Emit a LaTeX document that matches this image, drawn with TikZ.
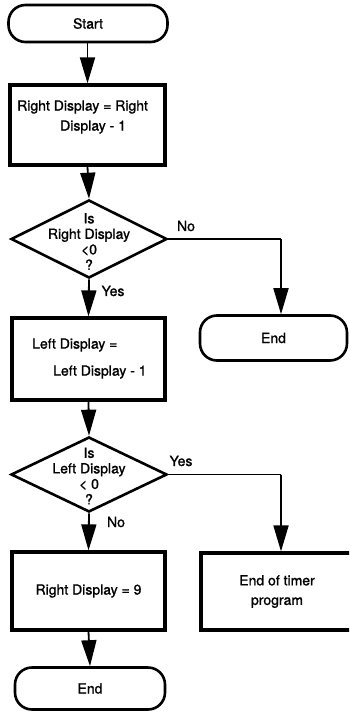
\documentclass[tikz,border=0pt]{standalone}
\usepackage{fontspec}
\setmainfont{TeX Gyre Heros}[BoldFont=TeX Gyre Heros,BoldFeatures={FakeBold=1.2}]
\usetikzlibrary{arrows.meta,shapes.geometric}
\begin{document}
\begin{tikzpicture}[x=1pt,y=-1pt,
  every node/.style={font=\fontsize{14}{15.5}\selectfont\bfseries},
  term/.style={draw,line width=2.6pt,rounded corners=17pt,inner sep=0},
  procbox/.style={draw,line width=3.2pt,inner sep=0},
  dia/.style={draw,diamond,line width=2.6pt,inner sep=0,minimum width=156pt},
  txt/.style={inner sep=0},
  arr/.style={line width=1.8pt,-{Triangle[width=15pt,length=26pt]}},
  conn/.style={line width=1.8pt}]
\useasboundingbox (0,0) rectangle (349,711);
\clip (0,0) rectangle (349,711);
% nodes
\node[term,minimum width=159pt,minimum height=37pt] (start) at (88,23.5) {Start};
\node[procbox,minimum width=155pt,minimum height=80pt] (b1) at (87.5,125) {};
\node[txt,anchor=west] (b1t1) at (17,107) {Right Display = Right};
\node[txt,anchor=west] (b1t2) at (60,127) {Display - 1};
\node[dia,minimum height=78pt] (d1) at (89,239) {};
\node[txt,align=center] (d1t) at (89,241.5) {Is\\Right Display\\<0\\?};
\node[term,minimum width=147pt,minimum height=45pt] (end1) at (273.5,338) {End};
\node[procbox,minimum width=153pt,minimum height=82pt] (b2) at (88.5,359) {};
\node[txt,anchor=west] (b2t1) at (32,345) {Left Display =};
\node[txt,anchor=west] (b2t2) at (53,372) {Left Display - 1};
\node[dia,minimum height=75pt] (d2) at (89,474.5) {};
\node[txt,align=center] (d2t) at (89,476) {Is\\Left Display\\< 0\\?};
\node[procbox,minimum width=153pt,minimum height=78pt] (b3) at (88.5,591) {Right Display = 9};
\node[procbox,minimum width=152pt,minimum height=77pt,align=center] (b4) at (277,591.5) {End of timer\\[4pt]program};
\node[term,minimum width=150pt,minimum height=42pt] (end2) at (90,688.5) {End};
% labels
\node[txt] (lno1) at (186,226) {No};
\node[txt] (lyes1) at (113,291) {Yes};
\node[txt] (lyes2) at (181,461) {Yes};
\node[txt] (lno2) at (116,522) {No};
% connectors
\draw[arr] (start.south -| b1.north) -- (b1.north);
\draw[arr] (b1.south) -- (d1.north);
\coordinate (c1) at (281,239);
\draw[conn] (d1.east) -- (c1);
\draw[arr] (c1) -- (c1 |- end1.north);
\draw[arr] (d1.south) -- (b2.north);
\draw[arr] (b2.south) -- (d2.north);
\coordinate (c2) at (281,474.5);
\draw[conn] (d2.east) -- (c2);
\draw[arr] (c2) -- (c2 |- b4.north);
\draw[arr] (d2.south) -- (b3.north);
\draw[arr] (b3.south) -- (end2.north);
\end{tikzpicture}
\end{document}
